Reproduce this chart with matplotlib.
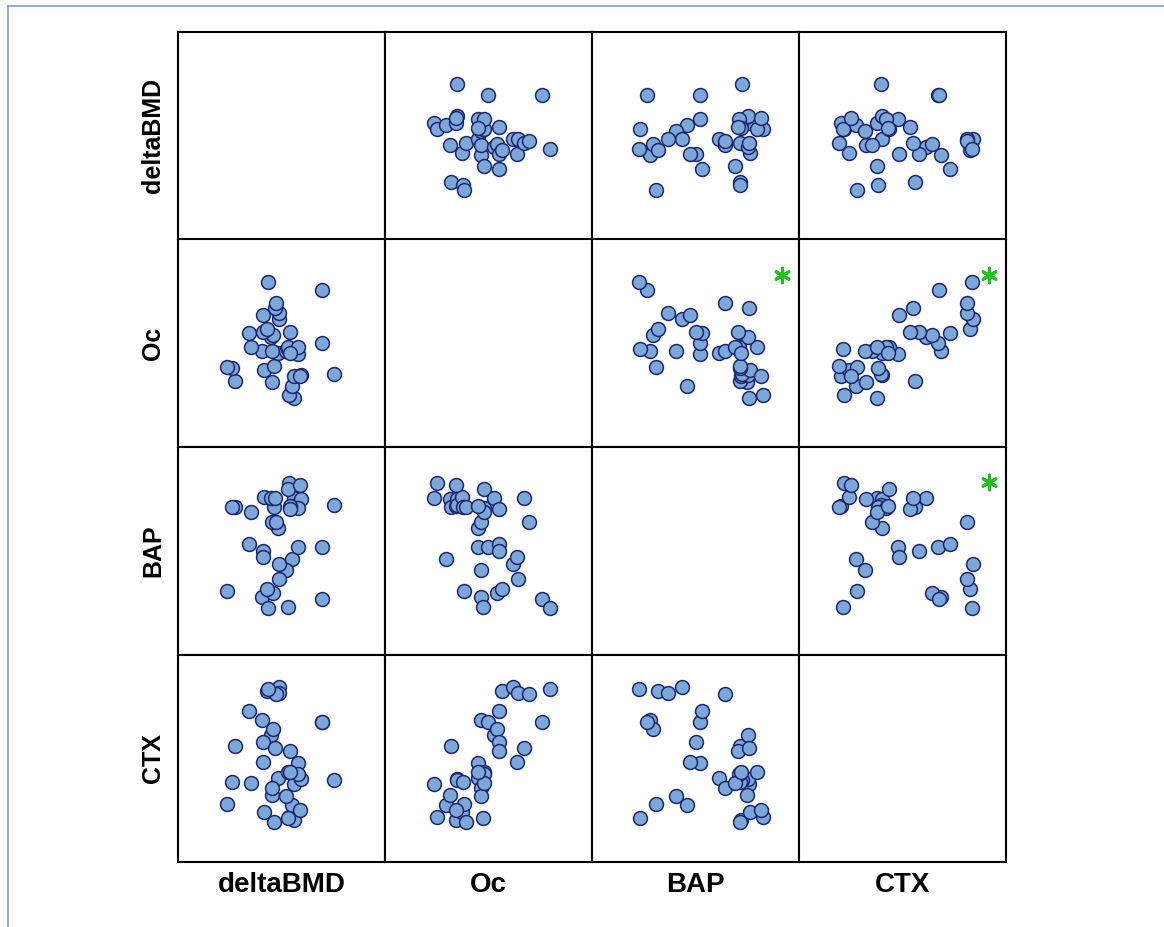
import matplotlib
matplotlib.use("Agg")
import matplotlib.pyplot as plt
from matplotlib.lines import Line2D

# ---- data (one entry per subject) ----
variables = ["deltaBMD", "Oc", "BAP", "CTX"]

deltaBMD = [0.80, 0.53, 0.72, -0.30, -2.13, 0.80, 1.17, 2.78, -0.70, -2.28,
            -2.53, -0.20, 1.00, 0.00, -0.78, -0.28, 0.42, 0.50, 0.50, 1.00,
            -1.33, 0.58, 2.20, -0.37, -0.25, -1.47, -0.75, 0.62, -0.53, 0.03,
            -0.75, 0.03, -0.17, -0.08, 2.20, -0.50, 1.08]
Oc = [14.7, 15.5, 18.3, 19.5, 19.8, 21.3, 21.5, 21.7, 23.0, 23.5,
      23.8, 24.3, 27.8, 28.0, 28.7, 28.7, 28.7, 29.3, 29.8, 29.8,
      29.8, 28.0, 31.0, 32.8, 33.5, 34.2, 34.3, 34.3, 35.2, 38.3,
      39.5, 40.0, 41.7, 43.2, 47.0, 49.5, 21.3]
BAP = [31.3, 34.2, 19.0, 31.0, 29.5, 29.7, 31.1, 29.9, 31.5, 29.5,
       12.7, 29.5, 21.5, 25.3, 11.5, 26.5, 16.8, 9.5, 33.0, 29.3,
       28.5, 29.7, 21.5, 31.2, 12.2, 22.0, 20.7, 29.1, 13.1, 18.0,
       19.5, 15.1, 31.3, 26.5, 11.0, 9.3, 33.8]
CTX = [0.466, 0.270, 0.340, 0.404, 0.694, 0.250, 0.496, 0.490, 0.300, 0.476,
       0.350, 0.240, 0.594, 0.500, 0.850, 0.440, 0.396, 0.266, 0.540, 0.524,
       0.470, 0.536, 0.836, 0.760, 0.796, 0.906, 0.720, 0.666, 1.026, 1.046,
       0.598, 1.010, 0.684, 1.006, 0.840, 1.036, 0.314]

# significant pairs (row variable, column variable) marked with an asterisk
significant = [("Oc", "BAP"), ("Oc", "CTX"), ("BAP", "CTX")]

data = {"deltaBMD": deltaBMD, "Oc": Oc, "BAP": BAP, "CTX": CTX}
limits = {"deltaBMD": (-5.0, 5.35), "Oc": (0, 62.1), "BAP": (0, 41.4), "CTX": (0, 1.242)}

W, H = 1164, 927
fig = plt.figure(figsize=(W / 100, H / 100), dpi=100)
fig.patch.set_facecolor("white")

left, right, top, bottom = 178 / W, 1006 / W, 1 - 32 / H, 1 - 862 / H
cw = (right - left) / 4
ch = (top - bottom) / 4

face = "#7ba7d9"
edge = "#1c2670"

for i, rv in enumerate(variables):
    for j, cv in enumerate(variables):
        ax = fig.add_axes([left + j * cw, top - (i + 1) * ch, cw, ch])
        ax.set_xticks([])
        ax.set_yticks([])
        for s in ax.spines.values():
            s.set_linewidth(1.5)
            s.set_color("black")
        ax.set_xlim(*limits[cv])
        ax.set_ylim(*limits[rv])
        if i != j:
            ax.scatter(data[cv], data[rv], s=100, facecolor=face, edgecolor=edge,
                       linewidth=1.1, zorder=3)
        if (rv, cv) in significant:
            ax.scatter([0.92], [0.83], transform=ax.transAxes, marker=(6, 2, 0),
                       s=110, color="#1fc21f", linewidth=2.2, zorder=4)

# row labels
for i, rv in enumerate(variables):
    yc = top - (i + 0.5) * ch
    fig.text(153 / W, yc, rv, rotation=90, ha="center", va="center",
             fontsize=18, fontweight="bold", family="Liberation Sans")
# column labels
for j, cv in enumerate(variables):
    xc = left + (j + 0.5) * cw
    fig.text(xc, 1 - 885 / H, cv, ha="center", va="center",
             fontsize=20, fontweight="bold", family="Liberation Sans")

# outer frame lines
fc = "#7f9cc6"
fig.add_artist(Line2D([8 / W, 8 / W], [0, 1 - 6 / H], transform=fig.transFigure,
                      color=fc, linewidth=1.2))
fig.add_artist(Line2D([8 / W, 1], [1 - 6 / H, 1 - 6 / H], transform=fig.transFigure,
                      color=fc, linewidth=1.2))

fig.savefig("out.png", dpi=100)
